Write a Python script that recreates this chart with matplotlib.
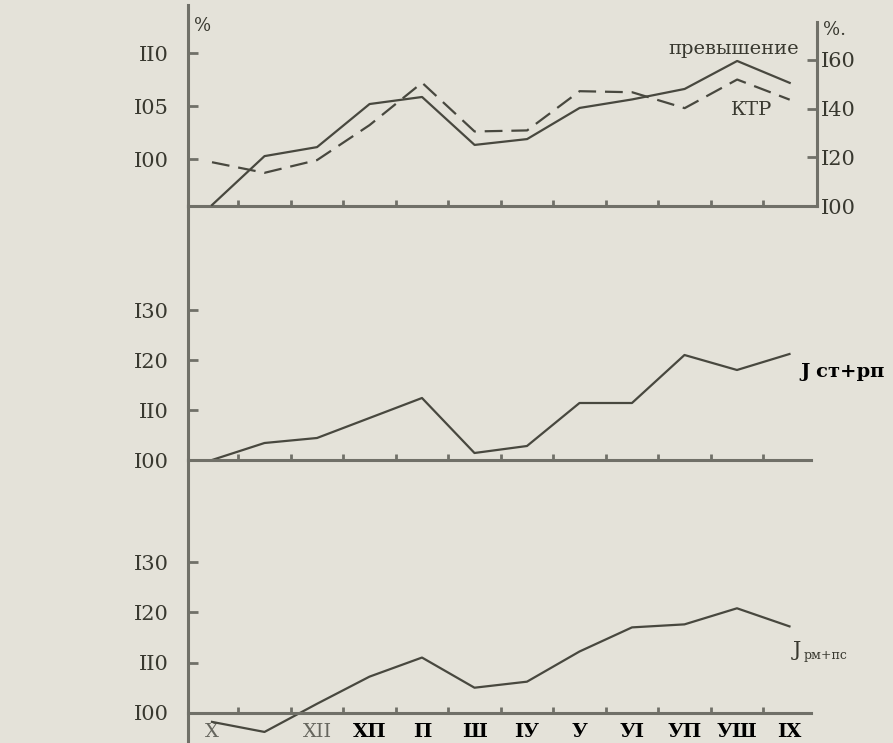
"""
Three stacked monthly index charts (scan recreation).
Top: KTR (left axis) and 'превышение' (right axis); middle and bottom: J indices.
"""

import matplotlib

matplotlib.use("Agg")
import matplotlib.pyplot as plt
import numpy as np

# months on the x axis (the 2nd slot has no label on the original)
months = ["X", "", "XII", "XП", "П", "Ш", "IУ", "У", "УI", "УП", "УШ", "IX"]
faint_months = ["X", "XII"]

# top panel, % (left axis)
ktr = [99.7, 98.7, 99.9, 103.2, 107.2, 102.6, 102.7, 106.4, 106.3, 104.8, 107.5, 105.6]
# top panel, % (right axis)
prevyshenie = [100.4, 120.5, 124.2, 141.9, 144.8, 125.1, 127.5, 140.3, 143.8, 148.1, 159.6, 150.6]

# middle panel, %
j_st_rp = [100.0, 103.4, 104.4, 108.4, 112.4, 101.4, 102.8, 111.4, 111.4, 121.0, 118.0, 121.2]
# bottom panel, %
j_rm_ps = [98.2, 96.2, 101.8, 107.2, 111.0, 105.0, 106.2, 112.2, 117.0, 117.6, 120.8, 117.2]

top_left_ticks = [100, 105, 110]
top_left_labels = ["I00", "I05", "II0"]
top_right_ticks = [100, 120, 140, 160]
top_right_labels = ["I00", "I20", "I40", "I60"]
low_ticks = [100, 110, 120, 130]
low_labels = ["I00", "II0", "I20", "I30"]

PAPER = "#e4e2d9"
AXIS = "#707068"
INK = "#48483f"
TEXT = "#38382f"

plt.rcParams["font.family"] = ["DejaVu Serif", "DejaVu Sans"]

W, H = 893, 743
fig = plt.figure(figsize=(W / 100, H / 100), dpi=100, facecolor=PAPER)


def box(x0, y0, x1, y1):
    """pixel box (top-left origin) -> figure fraction rect"""
    return [x0 / W, 1 - y1 / H, (x1 - x0) / W, (y1 - y0) / H]


def px(x, y):
    return x / W, 1 - y / H


ax_top = fig.add_axes(box(188, 5, 817, 206))
ax_mid = fig.add_axes(box(188, 206, 811, 460))
ax_bot = fig.add_axes(box(188, 460, 811, 743))
ax_r = ax_top.twinx()

x = np.arange(len(months))
x_left = -0.457
ax_top.set_xlim(x_left, 11.52)
ax_r.set_xlim(x_left, 11.52)
ax_mid.set_xlim(x_left, 11.41)
ax_bot.set_xlim(x_left, 11.41)

ax_top.set_ylim(95.57, 114.53)
ax_r.set_ylim(100, 182.6)
ax_mid.set_ylim(100, 150.8)
ax_bot.set_ylim(94.0, 150.3)

# 1. Axes styling
for ax in (ax_top, ax_mid, ax_bot, ax_r):
    ax.set_facecolor("none")
    for side in ("top", "right", "left", "bottom"):
        ax.spines[side].set_visible(False)
    ax.tick_params(colors=AXIS, labelcolor=TEXT, labelsize=15)

for ax in (ax_top, ax_mid, ax_bot):
    for side in ("left", "bottom"):
        ax.spines[side].set_visible(True)
        ax.spines[side].set_color(AXIS)
        ax.spines[side].set_linewidth(2.2)
    ax.set_xticks(x)
    ax.set_xticks(x[:-1] + 0.5, minor=True)
    ax.tick_params(axis="x", which="major", length=0)
    ax.tick_params(axis="x", which="minor", direction="in", length=4, width=2, color=AXIS)
    ax.tick_params(axis="y", direction="in", length=7, width=2, pad=14)

ax_bot.spines["bottom"].set_position(("data", 100))

ax_r.spines["right"].set_visible(True)
ax_r.spines["right"].set_color(AXIS)
ax_r.spines["right"].set_linewidth(2.2)
ax_r.spines["right"].set_bounds(100, 175.6)
ax_r.tick_params(axis="y", direction="in", length=7, width=2, pad=3)

ax_top.set_yticks(top_left_ticks, top_left_labels)
ax_r.set_yticks(top_right_ticks, top_right_labels)
ax_mid.set_yticks(low_ticks, low_labels)
ax_bot.set_yticks(low_ticks, low_labels)

ax_top.set_xticklabels([])
ax_mid.set_xticklabels([])
ax_bot.set_xticklabels(months)
ax_bot.tick_params(axis="x", which="major", pad=7, labelsize=14)
for lab in ax_bot.get_xticklabels():
    if lab.get_text() in faint_months:
        lab.set_color("#66665e")
    else:
        lab.set_color("black")
        lab.set_fontweight("bold")

# 2. Lines
ax_top.plot(x, ktr, color=INK, lw=1.6, ls=(0, (8, 4)))
ax_r.plot(x, prevyshenie, color=INK, lw=1.6)
ax_mid.plot(x, j_st_rp, color=INK, lw=1.6)
ax_bot.plot(x, j_rm_ps, color=INK, lw=1.6)

# 3. Labels
fig.text(*px(203, 26), "%", fontsize=13, color=TEXT, ha="center", va="center")
fig.text(*px(834, 30), "%.", fontsize=13, color=TEXT, ha="center", va="center")
fig.text(*px(734, 49), "превышение", fontsize=14, color=TEXT, ha="center", va="center")
fig.text(*px(752, 110), "КТР", fontsize=14, color=TEXT, ha="center", va="center")
fig.text(*px(843, 372), "J ст+рп", fontsize=14, fontweight="bold", color="black",
         ha="center", va="center")
fig.text(*px(797, 650), "J", fontsize=15, color=TEXT, ha="center", va="center")
fig.text(*px(826, 655), "рм+пс", fontsize=9, color=TEXT, ha="center", va="center")

fig.savefig("out.png", dpi=100, facecolor=PAPER)
plt.close(fig)
